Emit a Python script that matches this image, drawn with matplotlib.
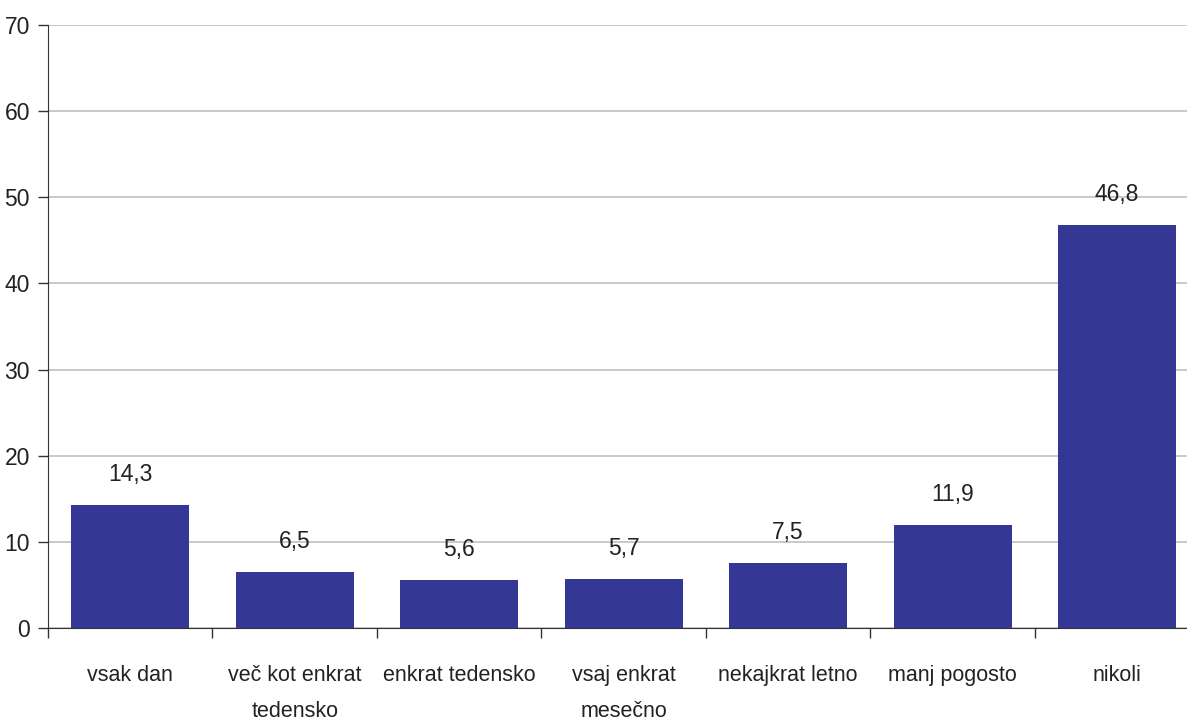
import matplotlib
matplotlib.use('Agg')
import matplotlib.pyplot as plt
import numpy as np

categories = ['vsak dan', 'več kot enkrat\ntedensko', 'enkrat tedensko', 'vsaj enkrat\nmesečno',
              'nekajkrat letno', 'manj pogosto', 'nikoli']
values = [14.3, 6.5, 5.6, 5.7, 7.5, 11.9, 46.8]
y_ticks = [0, 10, 20, 30, 40, 50, 60, 70]

plt.rcParams['font.family'] = ['Liberation Sans', 'DejaVu Sans']

fig = plt.figure(figsize=(11.87, 7.2), dpi=100)
# axes runs slightly past the right edge, as in the reference
ax = fig.add_axes([0.0404, 0.128, 0.970, 0.837])

x = np.arange(len(categories))
ax.bar(x, values, width=0.717, color='#343894', zorder=3)

for xi, v in zip(x, values):
    ax.text(xi, v + 2.2, f'{v:.1f}'.replace('.', ','), ha='center', va='bottom',
            fontsize=16.5, color='#222222')

ax.set_xlim(-0.5, len(categories) - 0.5)
ax.set_ylim(0, 70)
ax.set_yticks(y_ticks)
ax.set_yticklabels([str(t) for t in y_ticks], fontsize=16.5, color='#222222')
ax.yaxis.grid(True, color='#c0c0c0', linewidth=1.2, zorder=0)

# category labels centered, ticks at boundaries
ax.set_xticks(x)
ax.set_xticklabels(categories, fontsize=15.5, color='#222222', linespacing=1.9)
ax.tick_params(axis='x', length=0, pad=27)
ax.set_xticks(np.arange(len(categories) + 1) - 0.5, minor=True)
ax.tick_params(axis='x', which='minor', length=7, width=1, color='#333333')
ax.tick_params(axis='y', length=7, width=1, color='#333333', pad=6)

for s in ['top', 'right']:
    ax.spines[s].set_visible(False)
ax.spines['left'].set_color('#333333')
ax.spines['bottom'].set_color('#333333')

fig.savefig('out.png', dpi=100)
